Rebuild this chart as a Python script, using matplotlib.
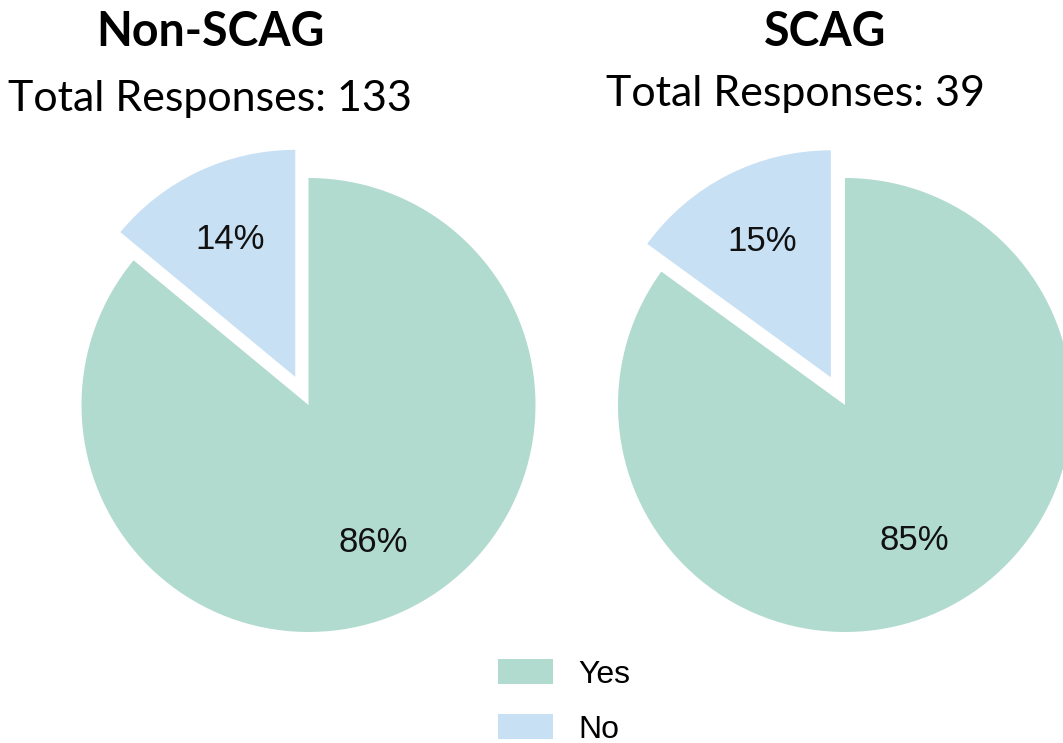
import matplotlib
matplotlib.use("Agg")
import matplotlib.pyplot as plt

# survey answers, percent of responses
answers = ["Yes", "No"]
non_scag_pct = [86, 14]
scag_pct = [85, 15]
groups = ["Non-SCAG", "SCAG"]
totals = [133, 39]

colors = ["#b2dbcf", "#c8e0f4"]

W, H = 1063, 743
fig = plt.figure(figsize=(W / 100, H / 100), dpi=100)

R = 227          # pie radius in px
LIM = 1.3
S = 2 * LIM * R  # axes side in px


def pie_axes(cx, cy):
    # cx, cy: pie centre in px measured from the top-left corner
    return fig.add_axes([(cx - S / 2) / W, (H - cy - S / 2) / H, S / W, S / H])


def draw_pie(ax, vals):
    wedges, _, autotexts = ax.pie(
        vals, colors=colors, startangle=90, counterclock=False,
        explode=[0, 0.137], autopct=lambda p: "%d%%" % round(p),
        pctdistance=0.67, wedgeprops=dict(linewidth=0),
        textprops=dict(fontsize=25, family="Liberation Sans", color="#111111"))
    ax.set_xlim(-LIM, LIM)
    ax.set_ylim(-LIM, LIM)
    ax.set_aspect("equal")
    ax.axis("off")
    return wedges


ax1 = pie_axes(308.5, 405)
wedges = draw_pie(ax1, non_scag_pct)
ax2 = pie_axes(845, 405)
draw_pie(ax2, scag_pct)

# headings
title_font = dict(family="Lato", fontweight="bold", fontsize=33.5)
sub_font = dict(family="Lato", fontsize=31)
fig.text(210 / W, 1 - 46 / H, groups[0], ha="center", va="baseline", **title_font)
fig.text(210 / W, 1 - 111 / H, "Total Responses: %d" % totals[0],
         ha="center", va="baseline", **sub_font)
fig.text(825 / W, 1 - 46 / H, groups[1], ha="center", va="baseline", **title_font)
fig.text(795 / W, 1 - 106 / H, "Total Responses: %d" % totals[1],
         ha="center", va="baseline", **sub_font)

fig.legend(wedges, answers, loc="upper left",
           bbox_to_anchor=(498 / W, 1 - 659 / H), frameon=False,
           prop=dict(family="Liberation Sans", size=23),
           handlelength=1.72, handleheight=0.85, handletextpad=0.8,
           labelspacing=0.75, borderpad=0, borderaxespad=0)

fig.savefig("out.png", dpi=100)
